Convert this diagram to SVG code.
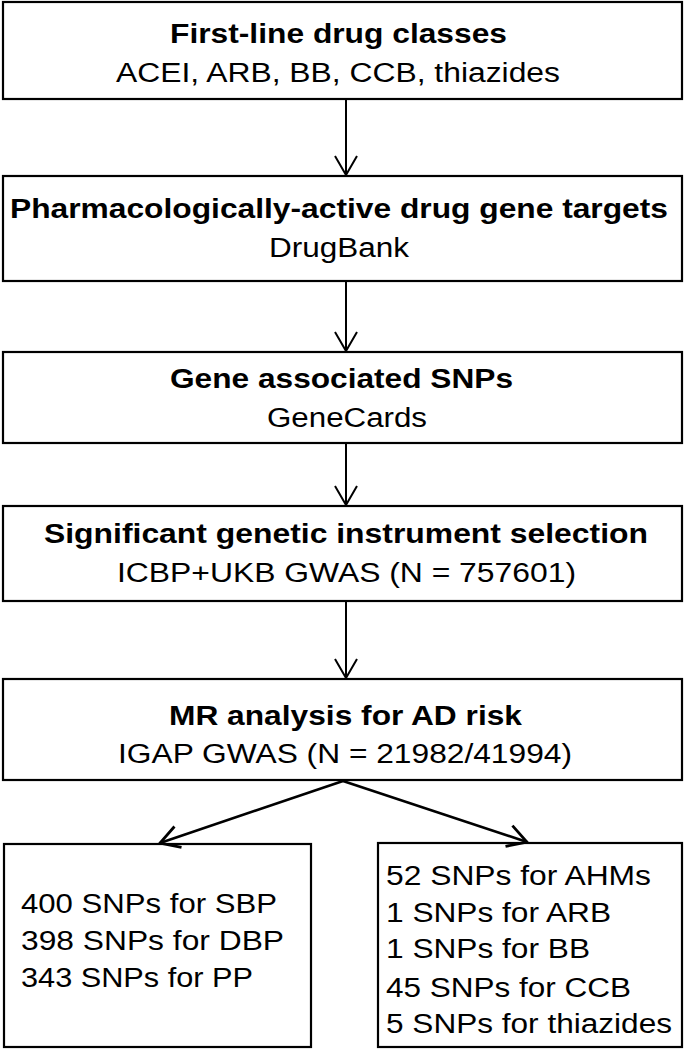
<svg xmlns="http://www.w3.org/2000/svg" width="685" height="1050" viewBox="0 0 685 1050">
<style>
.box{fill:#fff;stroke:#000;stroke-width:2.2}
.t{font-family:"Liberation Sans",Arial,sans-serif;font-size:27px;fill:#000}
.b{font-weight:bold}
.c{fill:none;stroke:#000;stroke-width:2}
.d{fill:none;stroke:#000;stroke-width:2.6}
</style>
<defs>
<marker id="ah" markerUnits="userSpaceOnUse" markerWidth="26" markerHeight="26" refX="20" refY="11" orient="auto" overflow="visible">
<path d="M1,0 L20,11 L1,22" fill="none" stroke="#000" stroke-width="2"/>
</marker>
<marker id="ah2" markerUnits="userSpaceOnUse" markerWidth="26" markerHeight="26" refX="20" refY="11" orient="auto" overflow="visible">
<path d="M1,0 L20,11 L1,22" fill="none" stroke="#000" stroke-width="2.8"/>
</marker>
</defs>
<rect width="685" height="1050" fill="#fff"/>
<g id="n1">
<rect class="box" x="3" y="2" width="679" height="97"/>
<text class="t b" x="170" y="43" textLength="337" lengthAdjust="spacingAndGlyphs">First-line drug classes</text>
<text class="t" x="116" y="82" textLength="444" lengthAdjust="spacingAndGlyphs">ACEI, ARB, BB, CCB, thiazides</text>
</g>
<g id="n2">
<rect class="box" x="3" y="176" width="679" height="105"/>
<text class="t b" x="10" y="218" textLength="658" lengthAdjust="spacingAndGlyphs">Pharmacologically-active drug gene targets</text>
<text class="t" x="269" y="257" textLength="140" lengthAdjust="spacingAndGlyphs">DrugBank</text>
</g>
<g id="n3">
<rect class="box" x="3" y="352" width="679" height="91"/>
<text class="t b" x="170" y="388" textLength="343" lengthAdjust="spacingAndGlyphs">Gene associated SNPs</text>
<text class="t" x="267" y="427" textLength="160" lengthAdjust="spacingAndGlyphs">GeneCards</text>
</g>
<g id="n4">
<rect class="box" x="3" y="506" width="679" height="95"/>
<text class="t b" x="44" y="543" textLength="604" lengthAdjust="spacingAndGlyphs">Significant genetic instrument selection</text>
<text class="t" x="117" y="582" textLength="459" lengthAdjust="spacingAndGlyphs">ICBP+UKB GWAS (N = 757601)</text>
</g>
<g id="n5">
<rect class="box" x="3" y="679" width="679" height="101"/>
<text class="t b" x="169" y="725" textLength="353" lengthAdjust="spacingAndGlyphs">MR analysis for AD risk</text>
<text class="t" x="118" y="763" textLength="454" lengthAdjust="spacingAndGlyphs">IGAP GWAS (N = 21982/41994)</text>
</g>
<g id="n6">
<rect class="box" x="4" y="844" width="307" height="203"/>
<text class="t" x="21" y="913" textLength="256" lengthAdjust="spacingAndGlyphs">400 SNPs for SBP</text>
<text class="t" x="21" y="950" textLength="263" lengthAdjust="spacingAndGlyphs">398 SNPs for DBP</text>
<text class="t" x="21" y="987" textLength="232" lengthAdjust="spacingAndGlyphs">343 SNPs for PP</text>
</g>
<g id="n7">
<rect class="box" x="378" y="843" width="304" height="204"/>
<text class="t" x="386" y="885" textLength="265" lengthAdjust="spacingAndGlyphs">52 SNPs for AHMs</text>
<text class="t" x="386" y="922" textLength="225" lengthAdjust="spacingAndGlyphs">1 SNPs for ARB</text>
<text class="t" x="386" y="958" textLength="204" lengthAdjust="spacingAndGlyphs">1 SNPs for BB</text>
<text class="t" x="386" y="997" textLength="245" lengthAdjust="spacingAndGlyphs">45 SNPs for CCB</text>
<text class="t" x="386" y="1033" textLength="286" lengthAdjust="spacingAndGlyphs">5 SNPs for thiazides</text>
</g>
<g id="connectors">
<line class="c" x1="346" y1="100" x2="346" y2="175" marker-end="url(#ah)"/>
<line class="c" x1="346" y1="282" x2="346" y2="351" marker-end="url(#ah)"/>
<line class="c" x1="346" y1="444" x2="346" y2="505" marker-end="url(#ah)"/>
<line class="c" x1="346" y1="602" x2="346" y2="678" marker-end="url(#ah)"/>
<line class="d" x1="343" y1="781" x2="160" y2="843" marker-end="url(#ah2)"/>
<line class="d" x1="343" y1="781" x2="527" y2="842" marker-end="url(#ah2)"/>
</g>
</svg>
